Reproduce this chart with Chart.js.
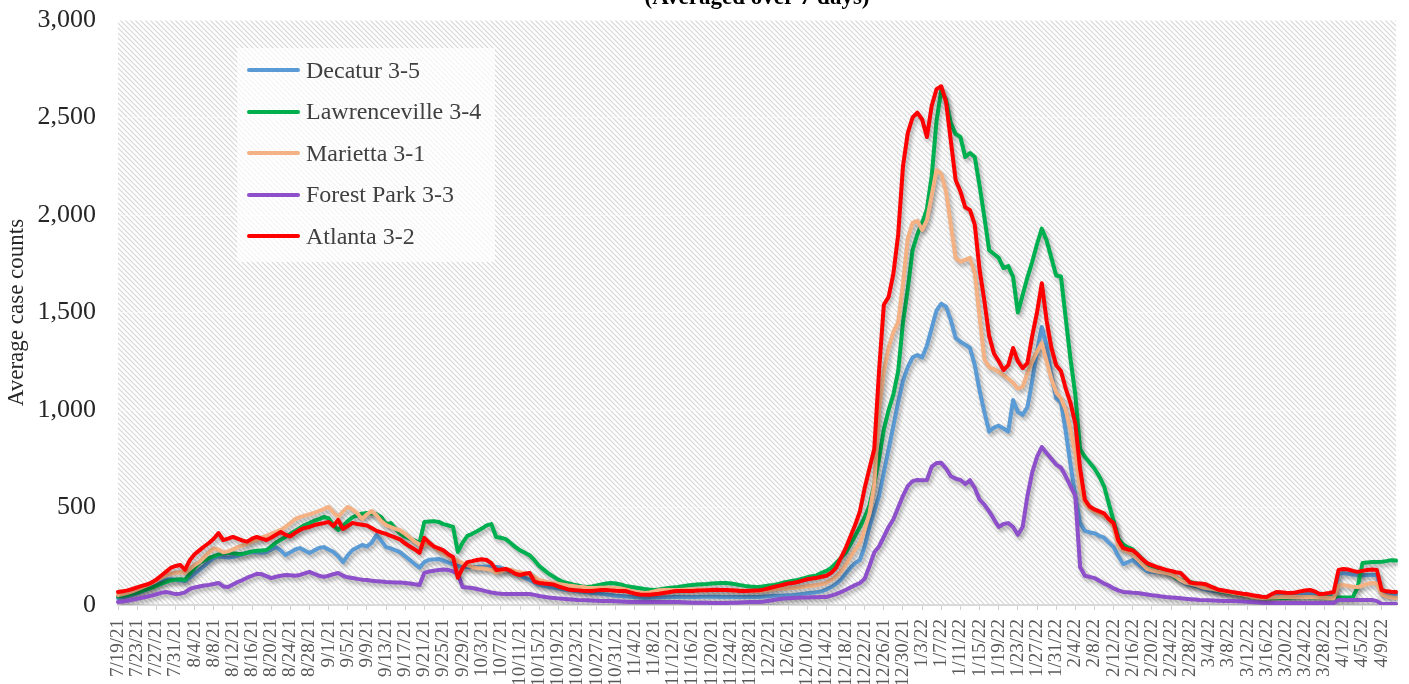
<!DOCTYPE html>
<html>
<head>
<meta charset="utf-8">
<script src="https://cdn.jsdelivr.net/npm/chart.js@4.4.1/dist/chart.umd.min.js"></script>
<style>
  html, body { margin: 0; padding: 0; background: #ffffff; }
  #wrap { position: relative; width: 1409px; height: 684px; overflow: hidden; }
  #c { position: absolute; left: 0; top: 0; }
  #legend { position: absolute; left: 237px; top: 48px; width: 258px; height: 214px;
            background: rgba(255,255,255,0.72); font-family: 'Liberation Serif', serif;
            font-size: 24px; color: #404040; }
  .item { position: absolute; left: 10px; height: 30px; display: flex; align-items: center; white-space: nowrap; }
  .swatch { width: 53px; height: 4px; border-radius: 2px; margin-right: 6px; }
</style>
</head>
<body>
<div id="wrap">
  <canvas id="c" width="1409" height="684"></canvas>
  <div id="legend"></div>
</div>
<script>
const TITLE = '(Averaged over 7 days)';
const Y_TITLE = 'Average case counts';
const START_DATE = [2021, 7, 19];   // first category (M/D/YY labels, one per day)

const SERIES_NAMES = ['Decatur 3-5', 'Lawrenceville 3-4', 'Marietta 3-1', 'Forest Park 3-3', 'Atlanta 3-2'];
const SERIES_COLORS = ['#5B9BD5', '#00B050', '#F4B183', '#8E4FCB', '#FF0000'];

const decatur = [
  36,40,45,52,60,70,80,92,105,118,
  128,132,130,126,123,140,160,180,200,222,
  240,248,246,244,246,252,260,268,272,270,
  268,272,285,297,280,256,270,285,292,280,
  267,280,292,297,285,272,250,220,255,282,
  295,308,300,320,359,330,297,290,280,270,
  250,230,210,192,220,232,234,236,228,218,
  208,200,196,195,195,195,196,197,196,195,
  192,182,172,162,154,140,128,115,103,98,
  92,88,84,80,77,74,71,68,65,62,
  60,57,54,51,48,46,44,42,40,38,
  36,37,38,39,40,40,41,41,41,41,
  41,41,42,42,42,42,41,41,41,41,
  41,41,41,41,41,43,45,47,48,49,
  50,51,54,57,60,63,66,70,80,92,
  108,130,160,190,215,231,300,400,480,560,
  680,800,920,1040,1150,1220,1270,1282,1270,1330,
  1420,1510,1545,1530,1460,1370,1350,1335,1318,1230,
  1100,990,890,910,920,905,890,1051,990,975,
  1015,1150,1300,1426,1330,1180,1060,1040,890,720,
  560,420,380,372,368,355,345,320,297,250,
  210,220,231,210,190,172,170,168,166,164,
  155,140,125,110,104,98,90,80,76,72,
  70,67,64,62,58,54,50,46,43,41,
  42,45,48,50,51,53,56,58,60,62,
  60,58,56,56,56,160,164,160,156,154,
  152,154,155,154,62,58,56,56
];

const lawrenceville = [
  45,48,52,58,65,72,80,88,98,108,
  118,126,130,132,128,160,190,215,228,240,
  250,258,265,268,266,262,262,268,275,278,
  280,282,300,320,335,349,365,380,395,410,
  420,432,440,451,445,410,385,405,430,450,
  460,468,472,470,465,450,415,420,390,365,
  350,340,330,318,426,428,430,426,415,408,
  400,272,320,355,365,378,392,408,415,349,
  345,338,318,298,280,268,255,230,200,180,
  160,145,130,118,112,105,100,95,92,95,
  100,105,110,113,110,105,98,94,90,86,
  82,79,77,80,84,87,90,92,96,100,
  103,105,107,108,110,112,113,113,110,106,
  102,98,95,93,92,96,100,103,108,115,
  120,124,128,135,142,148,152,165,175,190,
  215,240,267,310,355,400,450,510,620,750,
  900,1000,1080,1200,1450,1620,1820,1900,1960,2030,
  2200,2480,2640,2590,2470,2415,2400,2297,2318,2297,
  2150,1990,1820,1800,1780,1728,1738,1682,1500,1590,
  1680,1760,1850,1930,1870,1780,1690,1685,1470,1260,
  1080,800,760,730,700,660,610,520,430,340,
  310,295,285,260,235,210,200,192,182,175,
  160,140,128,123,118,112,108,100,90,80,
  72,68,64,60,56,52,48,44,40,37,
  36,36,36,36,36,38,40,41,41,40,
  39,38,38,38,38,38,38,38,40,92,
  215,218,220,220,222,225,230,228
];

const marietta = [
  51,56,62,70,80,90,100,112,125,140,
  154,160,165,168,164,185,205,220,245,270,
  290,285,270,275,285,297,305,315,325,333,
  345,355,365,375,385,400,420,440,451,458,
  465,472,482,492,503,475,451,480,503,490,
  470,441,465,482,460,430,410,400,390,382,
  365,345,325,310,312,310,300,280,265,250,
  238,225,215,205,195,190,188,185,180,165,
  172,185,180,172,168,162,156,145,128,122,
  116,112,108,104,100,97,94,92,89,87,
  87,88,88,87,87,85,80,74,68,64,
  62,64,70,76,77,77,77,77,78,79,
  80,80,79,78,78,77,77,77,76,75,
  74,73,72,72,72,74,77,80,83,85,
  86,87,90,93,96,99,102,106,115,128,
  145,170,205,245,285,318,390,470,620,1000,
  1200,1320,1400,1450,1650,1880,1960,1970,1923,1974,
  2100,2230,2210,2120,1950,1780,1760,1770,1780,1700,
  1480,1260,1220,1210,1195,1180,1160,1140,1110,1120,
  1190,1250,1300,1343,1250,1160,1090,1060,1000,900,
  780,600,520,495,480,470,455,440,400,300,
  285,272,260,235,210,185,178,172,168,164,
  158,145,128,115,110,104,96,88,84,80,
  75,70,66,62,58,54,48,42,38,36,
  37,38,40,41,41,41,41,41,41,41,
  40,38,37,36,36,100,103,98,94,92,
  100,108,113,110,56,45,40,36
];

const forestPark = [
  15,18,22,27,32,37,42,48,55,62,
  67,62,56,58,65,82,90,95,100,103,
  108,113,95,92,105,118,128,140,150,160,
  158,148,138,145,150,154,152,150,154,162,
  170,160,150,144,150,158,164,150,142,138,
  134,130,128,124,122,120,118,117,116,115,
  113,110,106,103,165,172,176,180,182,180,
  172,160,92,90,87,82,76,70,64,60,
  58,57,56,56,56,56,56,52,46,42,
  38,36,34,32,30,28,26,25,24,23,
  22,21,20,20,19,18,17,16,16,15,
  15,15,15,15,15,15,15,15,14,13,
  12,12,11,11,10,10,10,10,11,12,
  13,14,15,15,15,18,22,26,30,33,
  35,36,37,38,39,40,40,41,41,48,
  56,66,77,90,102,113,135,200,270,300,
  350,400,440,500,560,610,635,641,640,641,
  710,728,730,700,660,648,641,620,640,600,
  540,515,480,440,400,415,420,400,360,400,
  560,680,760,810,780,750,720,705,660,610,
  560,195,150,144,138,125,110,100,85,75,
  67,65,63,62,58,54,50,47,44,41,
  39,37,35,32,30,28,26,25,24,23,
  22,21,20,20,19,18,16,15,14,12,
  10,10,10,10,10,10,10,10,10,10,
  10,10,10,10,10,26,26,26,26,26,
  26,26,26,20,5,5,5,5
];

const atlanta = [
  67,70,75,82,90,98,105,115,130,150,
  170,190,200,205,180,230,260,280,300,318,
  340,369,333,340,349,340,330,325,340,349,
  340,333,345,360,374,360,352,370,385,395,
  400,410,415,420,426,405,436,390,405,421,
  415,412,408,395,380,372,365,355,345,335,
  315,300,285,267,344,320,300,290,280,260,
  246,140,190,220,225,231,235,231,215,180,
  182,185,175,160,154,160,164,120,113,110,
  108,105,95,88,80,77,75,73,72,72,
  75,77,77,75,73,72,72,65,58,54,
  52,52,55,58,62,65,70,72,72,72,
  72,74,75,76,77,78,77,77,76,74,
  72,72,73,74,75,80,86,92,98,104,
  110,113,118,125,132,136,140,145,150,165,
  190,240,290,350,410,480,600,700,800,1200,
  1540,1580,1700,1900,2250,2420,2500,2525,2490,2400,
  2560,2645,2660,2580,2380,2180,2120,2040,2025,1950,
  1720,1560,1380,1290,1250,1205,1230,1318,1250,1215,
  1240,1380,1500,1650,1460,1320,1230,1200,1110,1036,
  930,700,540,505,490,480,470,440,420,330,
  292,285,280,260,235,215,205,195,188,180,
  175,168,164,140,115,112,110,108,98,88,
  78,74,70,66,62,58,55,50,46,42,
  41,55,67,65,63,62,64,70,74,77,
  70,56,58,62,67,180,185,182,175,170,
  175,180,182,180,77,70,68,67
];

const SERIES = [decatur, lawrenceville, marietta, forestPark, atlanta];
const Y_TICKS = [0, 500, 1000, 1500, 2000, 2500, 3000];
const LABEL_EVERY = 4;

// category labels: one per day starting at START_DATE
const labels = [];
{
  const d0 = new Date(START_DATE[0], START_DATE[1] - 1, START_DATE[2]);
  for (let i = 0; i < atlanta.length; i++) {
    const d = new Date(d0.getFullYear(), d0.getMonth(), d0.getDate() + i);
    labels.push((d.getMonth() + 1) + '/' + d.getDate() + '/' + String(d.getFullYear()).slice(2));
  }
}

const SERIF = "'Liberation Serif', 'DejaVu Serif', serif";

function makeHatch(ctx) {
  const s = 5;
  const t = document.createElement('canvas');
  t.width = s; t.height = s;
  const g = t.getContext('2d');
  g.fillStyle = '#ffffff';
  g.fillRect(0, 0, s, s);
  g.strokeStyle = '#d6d6d6';
  g.lineWidth = 1.2;
  g.beginPath();
  g.moveTo(0, 0); g.lineTo(s, s);
  g.moveTo(-1, s - 1); g.lineTo(1, s + 1);
  g.moveTo(s - 1, -1); g.lineTo(s + 1, 1);
  g.stroke();
  return ctx.createPattern(t, 'repeat');
}

const hatchPlugin = {
  id: 'hatch',
  beforeDraw(chart) {
    const { ctx, chartArea: a } = chart;
    ctx.save();
    ctx.fillStyle = makeHatch(ctx);
    ctx.fillRect(a.left, a.top, a.right - a.left, a.bottom - a.top);
    ctx.restore();
  }
};

const shadowPlugin = {
  id: 'lineShadow',
  beforeDatasetsDraw(chart) {
    const ctx = chart.ctx;
    ctx.save();
    ctx.shadowColor = 'rgba(0,0,0,0.32)';
    ctx.shadowBlur = 4;
    ctx.shadowOffsetX = 2;
    ctx.shadowOffsetY = 3;
  },
  afterDatasetsDraw(chart) {
    chart.ctx.restore();
  }
};

const titlePlugin = {
  id: 'topTitle',
  afterDraw(chart) {
    const { ctx, chartArea: a } = chart;
    ctx.save();
    ctx.font = 'bold 23px ' + SERIF;
    ctx.fillStyle = '#000000';
    ctx.textAlign = 'center';
    ctx.textBaseline = 'alphabetic';
    ctx.fillText(TITLE, (a.left + a.right) / 2, 4);
    ctx.restore();
  }
};

const datasets = SERIES.map((data, i) => ({
  label: SERIES_NAMES[i],
  data: data,
  borderColor: SERIES_COLORS[i],
  backgroundColor: SERIES_COLORS[i],
  borderWidth: 4,
  pointRadius: 0,
  pointHoverRadius: 0,
  tension: 0,
  fill: false,
  borderJoinStyle: 'round',
  borderCapStyle: 'round',
  order: SERIES.length - 1 - i
}));

const chart = new Chart(document.getElementById('c'), {
  type: 'line',
  data: { labels: labels, datasets: datasets },
  plugins: [hatchPlugin, shadowPlugin, titlePlugin],
  options: {
    responsive: false,
    animation: false,
    events: [],
    layout: { padding: { top: 20, right: 13, left: 0, bottom: 0 } },
    plugins: {
      legend: { display: false },
      tooltip: { enabled: false },
      title: { display: false }
    },
    scales: {
      x: {
        type: 'category',
        offset: false,
        afterFit(scale) {
          scale.height = 79;
          scale.paddingLeft = 0; scale.paddingRight = 0;
          scale.paddingTop = 0; scale.paddingBottom = 0;
        },
        border: { display: true, color: '#d9d9d9', width: 2 },
        grid: { display: true, drawOnChartArea: false, drawTicks: true, tickLength: 5, color: '#d0d0d0' },
        ticks: {
          autoSkip: false,
          maxRotation: 90,
          minRotation: 90,
          padding: 9,
          color: '#595959',
          font: { family: SERIF, size: 19 },
          callback(val, idx) { return idx % LABEL_EVERY === 0 ? labels[idx] : null; }
        }
      },
      y: {
        min: Y_TICKS[0],
        max: Y_TICKS[Y_TICKS.length - 1],
        afterFit(scale) {
          scale.width = 118;
          scale.paddingTop = 0; scale.paddingBottom = 0;
          scale.paddingLeft = 0; scale.paddingRight = 0;
        },
        afterBuildTicks(scale) { scale.ticks = Y_TICKS.map(v => ({ value: v })); },
        border: { display: false },
        grid: { color: 'rgba(255,255,255,0.55)', drawTicks: false },
        ticks: {
          padding: 22,
          color: '#262626',
          font: { family: SERIF, size: 26 },
          callback(v) { return Number(v).toLocaleString('en-US'); }
        },
        title: {
          display: true,
          text: Y_TITLE,
          color: '#262626',
          font: { family: SERIF, size: 23 },
          padding: { top: 3, bottom: 0 }
        }
      }
    }
  }
});

// HTML legend built from the datasets
const leg = document.getElementById('legend');
SERIES_NAMES.forEach((name, i) => {
  const row = document.createElement('div');
  row.className = 'item';
  row.style.top = (22 + i * 41.5 - 15) + 'px';
  const sw = document.createElement('span');
  sw.className = 'swatch';
  sw.style.background = SERIES_COLORS[i];
  const tx = document.createElement('span');
  tx.textContent = name;
  row.appendChild(sw);
  row.appendChild(tx);
  leg.appendChild(row);
});
</script>
</body>
</html>
